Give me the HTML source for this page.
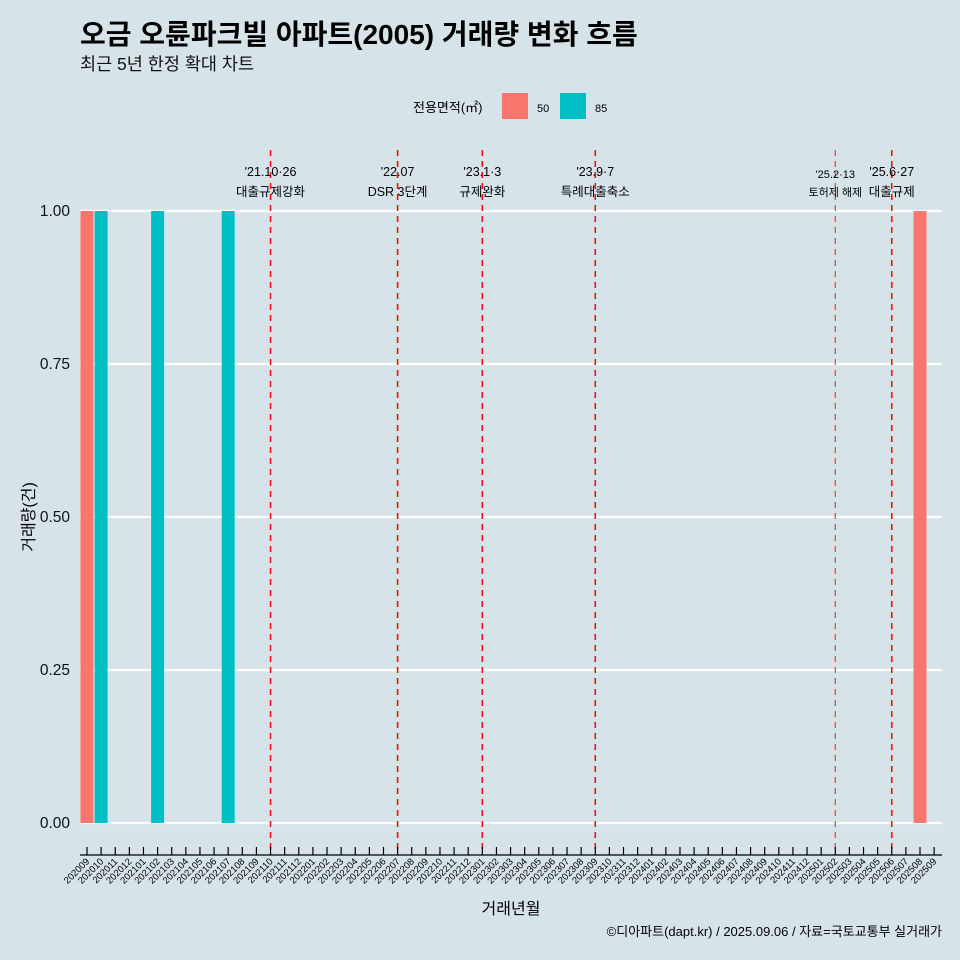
<!DOCTYPE html>
<html><head><meta charset="utf-8"><style>
body{margin:0;background:#d6e4ea;overflow:hidden;}
text{font-family:"Liberation Sans","Noto Sans CJK KR",sans-serif;}
</style></head><body>
<svg id="c" width="960" height="960" xmlns="http://www.w3.org/2000/svg" style="display:block">
<rect width="960" height="960" fill="#d6e4ea"/>
<text x="80" y="44" font-size="28" font-weight="bold" fill="#000">오금 오륜파크빌 아파트(2005) 거래량 변화 흐름</text>
<text x="80" y="70" font-size="17.5" fill="#111">최근 5년 한정 확대 차트</text>
<g>
<text x="413" y="112" font-size="13">전용면적(㎡)</text>
<rect x="502" y="93" width="26" height="26" fill="#f8766d"/>
<text x="537" y="112" font-size="11">50</text>
<rect x="560" y="93" width="26" height="26" fill="#00bfc4"/>
<text x="595" y="112" font-size="11">85</text>
</g>
<g id="grid"></g><g id="bars"></g><g id="vl"></g><g id="ax"></g>
<text transform="translate(34,517) rotate(-90)" text-anchor="middle" font-size="16">거래량(건)</text>
<text x="511" y="914" text-anchor="middle" font-size="16">거래년월</text>
<text x="942" y="936" text-anchor="end" font-size="13">©디아파트(dapt.kr) / 2025.09.06 / 자료=국토교통부 실거래가</text>
</svg>
<script>
const months=[];for(let y=2020;y<=2025;y++)for(let m=1;m<=12;m++){const k=y*100+m;if(k>=202009&&k<=202509)months.push(String(k));}
const barMonths=['202009','202010','202102','202107','202508'];
const barSizes=['50','85','85','85','50'];
const barValues=[1,1,1,1,1];
const yTicks=[0,0.25,0.5,0.75,1];
const yTickLabels=['0.00','0.25','0.50','0.75','1.00'];
const eventMonths=['202110','202207','202301','202309','202502','202506'];
const eventDates=["'21.10·26","'22.07","'23.1·3","'23.9·7","'25.2·13","'25.6·27"];
const eventNames=['대출규제강화','DSR 3단계','규제완화','특례대출축소','토허제 해제','대출규제'];
const ns='http://www.w3.org/2000/svg';
const step=(920-87)/59;
const x=m=>87+months.indexOf(m)*step;
const y=v=>823-v*612;
function mk(t,a,p){const e=document.createElementNS(ns,t);for(const k in a)e.setAttribute(k,a[k]);document.getElementById(p).appendChild(e);return e;}
const colors={'50':'#f8766d','85':'#00bfc4'};
yTicks.forEach((v,i)=>{
 const l=mk('line',{x1:80,x2:942,y1:y(v),y2:y(v),stroke:'#fff','stroke-width':2.2},'grid');
 
 
 const t=mk('text',{x:70,y:y(v)+5,'text-anchor':'end','font-size':15.5,fill:'#111'},'ax');
 t.textContent=yTickLabels[i];
 
 
});
barMonths.forEach((m,i)=>{
 const r=mk('rect',{x:x(m)-6.5,y:y(barValues[i]),width:13,height:y(0)-y(barValues[i]),fill:colors[barSizes[i]]},'bars');
 
 
});
eventMonths.forEach((m,i)=>{
 const xx=x(m);
 const l=mk('line',{x1:xx,x2:xx,y1:150,y2:855,stroke:i==4?'#e8494f':'#ee1111','stroke-width':i==4?1.3:1.6,'stroke-dasharray':'6,5'},'vl');
 
 
 const fs=i==4?11:12.5;
 const a=mk('text',{x:xx,y:i==4?178:176,'text-anchor':'middle','font-size':fs},'vl');a.textContent=eventDates[i];
 
 
 const b=mk('text',{x:xx,y:196,'text-anchor':'middle','font-size':fs},'vl');b.textContent=eventNames[i];
 
 
});
const al=mk('line',{x1:80,x2:942,y1:855,y2:855,stroke:'#000','stroke-width':1.2},'ax');


months.forEach(m=>{
 const xx=x(m);
 const t=mk('line',{x1:xx,x2:xx,y1:847,y2:855,stroke:'#000','stroke-width':1.2},'ax');
 
 
 const s=mk('text',{x:xx+3,y:862,'text-anchor':'end','font-size':9.5,transform:`rotate(-45 ${xx+3} 862)`},'ax');
 s.textContent=m;
 
 
});
</script>
</body></html>
